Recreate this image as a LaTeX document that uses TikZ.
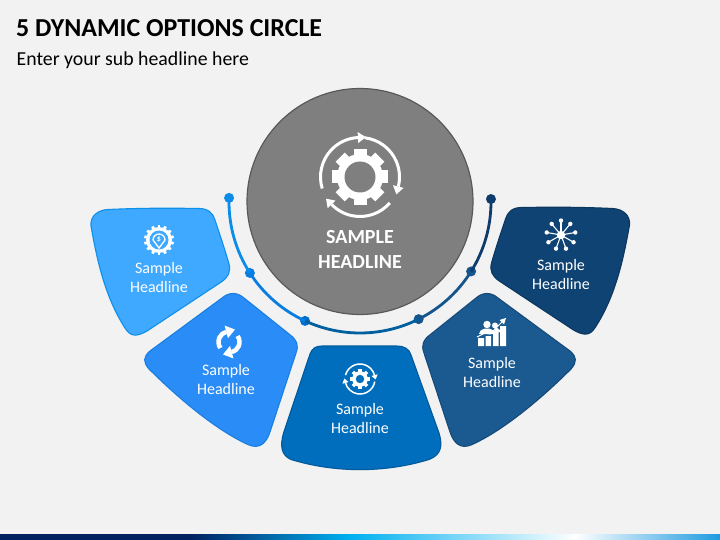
\documentclass[tikz,border=0pt]{standalone}
\usepackage{fontspec}
\setmainfont{Carlito}
\usetikzlibrary{calc}
\definecolor{bgc}{HTML}{F2F2F2}
\definecolor{fa}{HTML}{3FA9FF}\definecolor{ba}{HTML}{0E8FEA}
\definecolor{fb}{HTML}{2A8CF7}\definecolor{bb}{HTML}{1A7FE0}
\definecolor{fc}{HTML}{006EBD}\definecolor{bc}{HTML}{005A9C}
\definecolor{fd}{HTML}{1A5A91}\definecolor{bd}{HTML}{154A7A}
\definecolor{fe}{HTML}{0F4373}\definecolor{be}{HTML}{0C3860}
\definecolor{greyf}{HTML}{7F7F7F}\definecolor{greyb}{HTML}{595959}
\definecolor{barA}{HTML}{002060}\definecolor{barB}{HTML}{00B0F0}\definecolor{barC}{HTML}{1E9BE0}
\newcommand{\petalA}{(108,209.5) .. controls (140,208) and (170,208) .. (199,208.5)
  .. controls (208,208.5) and (213,213) .. (215,220)
  .. controls (220,235) and (225,250) .. (229,264)
  .. controls (231,272) and (228,277) .. (222,281.5)
  -- (147,331) .. controls (138,336) and (131,338) .. (125,328)
  .. controls (105,297) and (97,260) .. (91,226)
  .. controls (90,216) and (98,210) .. (108,209.5) -- cycle}
\newcommand{\petalB}{(222,298) .. controls (229,292) and (237,292) .. (244,298)
  -- (289,334) .. controls (297,340) and (299,345) .. (296,353)
  -- (270,432) .. controls (266,444) and (259,449) .. (249,445)
  .. controls (215,430) and (175,395) .. (149,369)
  .. controls (143,362) and (143,357) .. (150,351) -- cycle}
\newcommand{\gearicon}[8]{\begin{scope}[shift={(#1,#2)}]
  \fill[white] (0,0) circle[radius=#4pt];
  \foreach \i in {1,...,#7}{\fill[white,rotate=\i*360/#7] (-#6pt/2,0pt) rectangle (#6pt/2,#3pt);}
  \fill[#8] (0,0) circle[radius=#5pt];
\end{scope}}
% centre x, centre y, radius, start, end, line width, half head, head length
\newcommand{\ringarrow}[8]{\begin{scope}[shift={(#1,#2)}]
  \draw[white,line width=#6pt] (#4:#3pt) arc[start angle=#4,end angle=#5,radius=#3pt];
  \fill[white,rotate=#5] (#3pt-#7pt,0pt) -- (#3pt+#7pt,0pt) -- (#3pt,-#8pt) -- cycle;
\end{scope}}
\tikzset{
  petal/.style={line width=1.1pt,line join=round},
  lab/.style={white,align=center,font=\fontsize{16}{19}\selectfont,inner sep=0pt},
  dotn/.style={circle,inner sep=0pt,minimum size=10pt},
  seg/.style={line width=2.8pt}
}
\begin{document}
\begin{tikzpicture}[x=1pt,y=-1pt]
\useasboundingbox (0,0) rectangle (720,540);
\fill[bgc] (0,0) rectangle (720,540);
% bottom bar
\fill[barA] (0,534) rectangle (190,540);
\shade[left color=barA,right color=barB] (190,534) rectangle (350,540);
\shade[left color=barB,right color=white] (350,534) rectangle (575,540);
\shade[left color=white,right color=barC] (575,534) rectangle (720,540);
% titles
\node[anchor=west,inner sep=0pt,font=\fontsize{25.9}{30}\selectfont\bfseries,text=black] (title) at (16,28.5) {5 DYNAMIC OPTIONS CIRCLE};
\node[anchor=west,inner sep=0pt,font=\fontsize{19.8}{24}\selectfont,text=black] (sub) at (16.5,60) {Enter your sub headline here};
% petals
\draw[petal,fill=fa,draw=ba] \petalA;
\draw[petal,fill=fb,draw=bb] \petalB;
\draw[petal,fill=fc,draw=bc] (322,346) -- (396,346) .. controls (405,346) and (409,349) .. (411,355)
  -- (439,433) .. controls (443,446) and (441,455) .. (429,459.5)
  .. controls (385,473) and (335,473) .. (291,459.5)
  .. controls (281,455) and (280,446) .. (283.5,433)
  -- (310,354) .. controls (312,349) and (315,346) .. (322,346) -- cycle;
\begin{scope}[shift={(720,0)},xscale=-1]
\draw[petal,fill=fd,draw=bd] \petalB;
\end{scope}
\begin{scope}[shift={(720.5,-1)},xscale=-1]
\draw[petal,fill=fe,draw=be] \petalA;
\end{scope}
% centre circle
\node[circle,draw=greyb,fill=greyf,line width=1.2pt,minimum size=226pt,inner sep=0pt] (hub) at (360,201.5) {};
% arc and dots
\coordinate (o) at (360,202);
\definecolor{da}{HTML}{0A8CE8}\definecolor{db}{HTML}{0A7EE0}\definecolor{dc}{HTML}{0070CC}
\definecolor{dd}{HTML}{00609F}\definecolor{de}{HTML}{15558C}\definecolor{df}{HTML}{0E3C6C}
\node[dotn,fill=da] (d1) at ($(o)+(178.2:131pt)$) {};
\node[dotn,fill=db] (d2) at ($(o)+(212.8:131pt)$) {};
\node[dotn,fill=dc] (d3) at ($(o)+(245.2:131pt)$) {};
\node[dotn,fill=de] (d4) at ($(o)+(296.6:131pt)$) {};
\node[dotn,fill=de] (d5) at ($(o)+(328:131pt)$) {};
\node[dotn,fill=df] (d6) at ($(o)+(361.3:131pt)$) {};
\draw[seg,da] (d1.center) arc[start angle=178.2,end angle=212.8,radius=131pt];
\draw[seg,db] (d2.center) arc[start angle=212.8,end angle=245.2,radius=131pt];
\draw[seg,dd] (d3.center) arc[start angle=245.2,end angle=296.6,radius=131pt];
\draw[seg,de] (d4.center) arc[start angle=296.6,end angle=328,radius=131pt];
\draw[seg,df] (d5.center) arc[start angle=328,end angle=361.3,radius=131pt];
% labels
\node[white,align=center,inner sep=0pt,font=\fontsize{20}{24.5}\selectfont\bfseries] (hubt) at (360,249.5) {SAMPLE\\HEADLINE};
\node[lab] (la) at (159,277.5) {Sample\\Headline};
\node[lab] (lb) at (226,379.5) {Sample\\Headline};
\node[lab] (lc) at (360,418.5) {Sample\\Headline};
\node[lab] (ld) at (492,372.5) {Sample\\Headline};
\node[lab] (le) at (561,274.5) {Sample\\Headline};
% hub icon
\gearicon{360}{177}{28}{23}{15.5}{13}{8}{greyf}
\ringarrow{360}{177}{39.5}{197}{93}{3}{5.5}{8}
\ringarrow{360}{177}{39.5}{83}{-14}{3}{5.5}{8}
\ringarrow{360}{177}{39.5}{-41}{-136}{3}{5.5}{8}
% dollar gear
\gearicon{159}{240}{15}{13}{9.5}{2.8}{14}{fa}
\draw[white,line width=1.3pt] (153,240) arc[start angle=180,end angle=0,radius=6pt] -- (159,248) -- cycle;
\node[white,inner sep=0pt,font=\fontsize{8}{8}\selectfont\bfseries] (dollar) at (159,239) {\$};
% refresh
\ringarrow{229}{342}{10.5}{215}{105}{4.5}{6.5}{9}
\ringarrow{229}{342}{10.5}{35}{-75}{4.5}{6.5}{9}
% small gear
\gearicon{360}{379}{10}{7.8}{4.2}{3.4}{8}{fc}
\ringarrow{360}{379}{15}{165}{15}{1.5}{3.2}{4.5}
\ringarrow{360}{379}{15}{-10}{-165}{1.5}{3.2}{4.5}
% chart and people
\fill[white] (478,338) rectangle (484,346) (485.5,336) rectangle (491,346) (493,331) rectangle (498.5,346) (500,326) rectangle (506,346);
\draw[white,line width=1pt] (477,337) -- (485,333) -- (490,334) -- (502,322);
\fill[white] (506,318) -- (504,324.5) -- (499.5,320) -- cycle;
\fill[white] (487,324.5) circle[radius=3.7pt] (495,325.5) circle[radius=3pt];
\fill[white] (495,326) -- (498.5,329) .. controls (501,330) and (501,331) .. (501,332) -- (494,333) -- cycle;
\fill[white] (479,334) .. controls (479,331) and (481,330) .. (485,328.5) -- (489,328.5) .. controls (493,330) and (495,331) .. (495,334) -- cycle;
% network
\foreach \i in {0,...,8}{
  \draw[white,line width=1.1pt] (561,235) -- ++(90+\i*40:14pt);
  \fill[white] (561,235) ++(90+\i*40:14.5pt) circle[radius=2.2pt];
}
\fill[white] (561,235) circle[radius=4.2pt];
\end{tikzpicture}
\end{document}
